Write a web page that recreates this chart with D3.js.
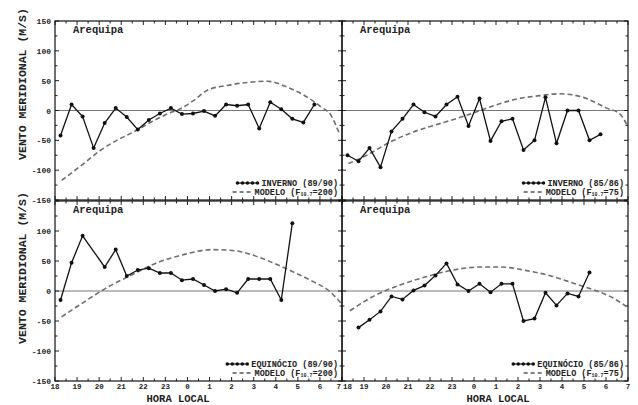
<!DOCTYPE html>
<html>
<head>
<meta charset="utf-8">
<script src="https://cdn.jsdelivr.net/npm/d3@7"></script>
<style>
  body { margin: 0; background: #fff; }
  svg { display: block; }
</style>
</head>
<body>
<svg></svg>
<script>
var width = 638;
var height = 405;

// tick labels
var horaTicks = ["18", "19", "20", "21", "22", "23", "0", "1", "2", "3", "4", "5", "6", "7"];
var ventoTicks = [150, 100, 50, 0, -50, -100, -150];

// observed data, hora local / vento meridional (m/s)
var invernoA_hora = [18.25, 18.75, 19.25, 19.75, 20.25, 20.75, 21.25, 21.75, 22.25, 22.75, 23.25, 23.75,
  0.25, 0.75, 1.25, 1.75, 2.25, 2.75, 3.25, 3.75, 4.25, 4.75, 5.25, 5.75];
var invernoA_vento = [-42, 10, -10, -63, -21, 4, -11, -32, -16, -5, 4, -6,
  -5, -1, -9, 10, 8, 10, -30, 14, 2, -14, -20, 10];

var invernoB_hora = [18.25, 18.75, 19.25, 19.75, 20.25, 20.75, 21.25, 21.75, 22.25, 22.75, 23.25, 23.75,
  0.25, 0.75, 1.25, 1.75, 2.25, 2.75, 3.25, 3.75, 4.25, 4.75, 5.25, 5.75];
var invernoB_vento = [-75, -85, -63, -95, -35, -14, 10, -3, -10, 10, 23, -26,
  20, -51, -18, -14, -66, -50, 22, -55, 0, 0, -50, -40];

var equinocioA_hora = [18.25, 18.75, 19.25, 20.25, 20.75, 21.25, 21.75, 22.25, 22.75, 23.25, 23.75,
  0.25, 0.75, 1.25, 1.75, 2.25, 2.75, 3.25, 3.75, 4.25, 4.75];
var equinocioA_vento = [-15, 47, 92, 40, 69, 25, 35, 38, 30, 30, 18,
  20, 10, 0, 3, -3, 20, 20, 20, -15, 113];

var equinocioB_hora = [18.75, 19.25, 19.75, 20.25, 20.75, 21.25, 21.75, 22.25, 22.75, 23.25, 23.75,
  0.25, 0.75, 1.25, 1.75, 2.25, 2.75, 3.25, 3.75, 4.25, 4.75, 5.25];
var equinocioB_vento = [-61, -48, -34, -9, -14, 1, 9, 26, 46, 11, 0,
  12, -2, 12, 12, -50, -46, -3, -24, -4, -9, 31];

// model curves
var modeloA_hora = [18.3, 19.3, 20.05, 20.8, 21.56, 22.32, 23.08, 23.68, 0.29, 0.9, 1.8, 2.71, 3.62, 4.53, 5.44, 6.05, 6.5, 6.88];
var modeloA_vento = [-117, -89, -67, -50, -36, -20, -6, 3, 17, 34, 42, 47, 49, 39, 22, 6, -8, -39];

var modeloB_hora = [18.29, 19.12, 20.18, 21.24, 22.45, 23.67, 0.73, 1.79, 3, 3.9, 4.97, 6.03, 6.64, 7];
var modeloB_vento = [-89, -75, -53, -36, -22, -8, 6, 18, 25, 28, 22, 4, -6, -28];

var modeloC_hora = [18.3, 19.21, 20.27, 21.49, 22.55, 23.76, 1.12, 2.18, 3.4, 4.6, 5.67, 6.42, 7];
var modeloC_vento = [-43, -21, 4, 27, 46, 60, 69, 67, 54, 35, 16, 0, -22];

var modeloD_hora = [18.36, 19.42, 20.64, 21.85, 23.06, 0.27, 1.18, 2.4, 3.6, 4.52, 5.42, 6.18, 6.94];
var modeloD_vento = [-33, -9, 10, 24, 35, 40, 40, 34, 24, 13, 2, -9, -26];

var panels = [
  {x0: 55, x1: 342, y0: 21, y1: 200, obsH: invernoA_hora, obsV: invernoA_vento, modH: modeloA_hora, modV: modeloA_vento,
    leg1: "INVERNO (89/90)", leg2: ["MODELO (F", "10.7", "=200)"], left: true, bottom: false},
  {x0: 342, x1: 628, y0: 21, y1: 200, obsH: invernoB_hora, obsV: invernoB_vento, modH: modeloB_hora, modV: modeloB_vento,
    leg1: "INVERNO (85/86)", leg2: ["MODELO (F", "10.7", "=75)"], left: false, bottom: false},
  {x0: 55, x1: 342, y0: 201, y1: 381, obsH: equinocioA_hora, obsV: equinocioA_vento, modH: modeloC_hora, modV: modeloC_vento,
    leg1: "EQUINÓCIO (89/90)", leg2: ["MODELO (F", "10.7", "=200)"], left: true, bottom: true},
  {x0: 342, x1: 628, y0: 201, y1: 381, obsH: equinocioB_hora, obsV: equinocioB_vento, modH: modeloD_hora, modV: modeloD_vento,
    leg1: "EQUINÓCIO (85/86)", leg2: ["MODELO (F", "10.7", "=75)"], left: false, bottom: true}
];

var font = "'Liberation Mono', 'DejaVu Sans Mono', monospace";

var svg = d3.select("svg")
  .attr("width", width)
  .attr("height", height);

// hours after 18 LT
function offset(h) { return h >= 12 ? h - 18 : h + 6; }

function label(g, x, y, size, txt, anchor) {
  return g.append("text")
    .attr("x", x).attr("y", y)
    .attr("text-anchor", anchor || "start")
    .attr("font-family", font)
    .attr("font-weight", "bold")
    .attr("font-size", size)
    .attr("fill", "#222")
    .text(txt);
}

panels.forEach(function (p) {
  var x = d3.scaleLinear().domain([0, 13]).range([p.x0, p.x1]);
  var y = d3.scaleLinear().domain([-150, 150]).range([p.y1, p.y0]);
  var g = svg.append("g");

  // zero line
  g.append("line")
    .attr("x1", p.x0).attr("x2", p.x1)
    .attr("y1", y(0)).attr("y2", y(0))
    .attr("stroke", "#777")
    .attr("stroke-width", 1.2);

  // ticks, inward on all four sides
  var xt = d3.range(0, 13.01, 0.5);
  xt.forEach(function (t) {
    var len = t % 1 === 0 ? 4 : 2.5;
    g.append("line").attr("x1", x(t)).attr("x2", x(t)).attr("y1", p.y1).attr("y2", p.y1 - len)
      .attr("stroke", "#222").attr("stroke-width", 1);
    g.append("line").attr("x1", x(t)).attr("x2", x(t)).attr("y1", p.y0).attr("y2", p.y0 + len)
      .attr("stroke", "#222").attr("stroke-width", 1);
  });
  var yt = d3.range(-150, 151, 25);
  yt.forEach(function (v) {
    var len = v % 50 === 0 ? 4 : 2.5;
    g.append("line").attr("x1", p.x0).attr("x2", p.x0 + len).attr("y1", y(v)).attr("y2", y(v))
      .attr("stroke", "#222").attr("stroke-width", 1);
    g.append("line").attr("x1", p.x1).attr("x2", p.x1 - len).attr("y1", y(v)).attr("y2", y(v))
      .attr("stroke", "#222").attr("stroke-width", 1);
  });

  // frame
  g.append("rect")
    .attr("x", p.x0).attr("y", p.y0)
    .attr("width", p.x1 - p.x0).attr("height", p.y1 - p.y0)
    .attr("fill", "none")
    .attr("stroke", "#111")
    .attr("stroke-width", 1.2);

  // y tick labels (the lower panel shares its top edge with the upper one)
  if (p.left) {
    (p.bottom ? ventoTicks.slice(1) : ventoTicks).forEach(function (d) {
      label(g, p.x0 - 4, y(d) + 3, 8, d, "end");
    });

    g.append("text")
      .attr("transform", "translate(26," + (p.bottom ? 268 : 84) + ") rotate(-90)")
      .attr("text-anchor", "middle")
      .attr("font-family", font)
      .attr("font-weight", "bold")
      .attr("font-size", 11.5)
      .attr("fill", "#222")
      .text("VENTO MERIDIONAL (M/S)");
  }

  // x tick labels
  if (p.bottom) {
    var n = horaTicks.length - 1;
    horaTicks.forEach(function (d, i) {
      var anchor = "middle", xx = x(i);
      if (p.left && i === n) { anchor = "end"; xx -= 1; }
      if (!p.left && i === 0) { anchor = "start"; xx += 1; }
      label(g, xx, p.y1 + 7.5, 7.5, d, anchor);
    });
    label(g, p.left ? 178 : 498, p.y1 + 20.5, 10.5, "HORA LOCAL", "middle");
  }

  label(g, p.x0 + 18, p.y0 + 12, 10.5, "Arequipa");

  // model (dashed)
  var mod = p.modH.map(function (h, i) { return [offset(h), p.modV[i]]; });
  g.append("path")
    .datum(mod)
    .attr("fill", "none")
    .attr("stroke", "#6e6e6e")
    .attr("stroke-width", 1.6)
    .attr("stroke-dasharray", "5,3")
    .attr("d", d3.line()
      .curve(d3.curveMonotoneX)
      .x(function (d) { return x(d[0]); })
      .y(function (d) { return y(d[1]); }));

  // observations
  var obs = p.obsH.map(function (h, i) { return [offset(h), p.obsV[i]]; });
  g.append("path")
    .datum(obs)
    .attr("fill", "none")
    .attr("stroke", "#111")
    .attr("stroke-width", 1.3)
    .attr("d", d3.line()
      .x(function (d) { return x(d[0]); })
      .y(function (d) { return y(d[1]); }));

  g.selectAll(".pt")
    .data(obs)
    .enter().append("circle")
    .attr("cx", function (d) { return x(d[0]); })
    .attr("cy", function (d) { return y(d[1]); })
    .attr("r", 2)
    .attr("fill", "#111");

  // legend
  var lx = p.x1 - 4;
  var ly1 = p.y1 - 17;
  var ly2 = p.y1 - 8;
  var t1 = label(g, lx, ly1 + 3, 8.5, p.leg1, "end");
  var sx = lx - t1.node().getComputedTextLength() - 4;
  g.selectAll(".lgpt")
    .data([0, 1, 2, 3, 4])
    .enter().append("circle")
    .attr("cx", function (d) { return sx - 20 + d * 5; })
    .attr("cy", ly1)
    .attr("r", 1.8)
    .attr("fill", "#111");
  g.append("line")
    .attr("x1", sx - 20).attr("x2", sx)
    .attr("y1", ly1).attr("y2", ly1)
    .attr("stroke", "#111").attr("stroke-width", 1.2);

  // second line: MODELO (F + subscript 10.7 + =value), set right to left
  var c = label(g, lx, ly2 + 3, 8.5, p.leg2[2], "end");
  var cx = lx - c.node().getComputedTextLength();
  var s = label(g, cx, ly2 + 4, 5, p.leg2[1], "end");
  var sx1 = cx - s.node().getComputedTextLength();
  var a = label(g, sx1, ly2 + 3, 8.5, p.leg2[0], "end");
  var sx2 = sx1 - a.node().getComputedTextLength() - 4;
  g.append("line")
    .attr("x1", sx2 - 18).attr("x2", sx2)
    .attr("y1", ly2).attr("y2", ly2)
    .attr("stroke", "#555")
    .attr("stroke-width", 1.3)
    .attr("stroke-dasharray", "4,3");
});
</script>
</body>
</html>
